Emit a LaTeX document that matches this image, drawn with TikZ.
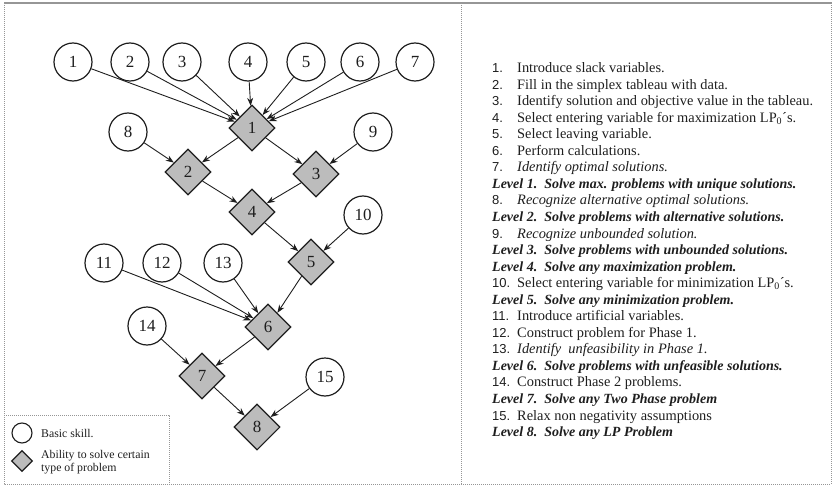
\documentclass[tikz,border=0pt]{standalone}
\usepackage{fontspec}
\setmainfont{Liberation Serif}
\newfontfamily\numfont{Liberation Sans}
\usetikzlibrary{shapes.geometric,arrows.meta}
\definecolor{ink}{RGB}{30,30,30}
\definecolor{dfill}{RGB}{188,188,188}
\definecolor{framec}{RGB}{150,150,150}
\tikzset{
  skill/.style={circle,draw=ink,line width=1.2pt,minimum size=38pt,inner sep=0pt,
    font=\fontsize{17}{17}\selectfont,text=ink,fill=white},
  level/.style={diamond,draw=ink,line width=1.1pt,fill=dfill,minimum width=46pt,
    minimum height=46pt,inner sep=0pt,font=\fontsize{17}{17}\selectfont,text=ink},
  arr/.style={draw=ink,line width=0.9pt,-{Stealth[length=8pt,width=6pt]}},
  frame/.style={draw=framec,line width=1pt,densely dotted},
  item/.style={anchor=base west,inner sep=0pt,font=\fontsize{14.4}{14}\selectfont,text=ink},
  lvl/.style={item,font=\fontsize{14}{14}\selectfont\bfseries\itshape},
  inum/.style={anchor=base west,inner sep=0pt,font=\numfont\fontsize{13}{13}\selectfont,text=ink},
  legtext/.style={anchor=west,inner sep=0pt,font=\fontsize{11.8}{13}\selectfont,text=ink,align=left}
}
\begin{document}
\begin{tikzpicture}[x=1pt,y=-1pt]
\useasboundingbox (0,0) rectangle (833,487);
% frames
\draw[frame] (4,3) rectangle (831,484);
\draw[draw=framec,line width=1.2pt] (4,3) -- (831,3);
\draw[frame] (461,3) -- (461,484);
\draw[frame] (4,415) -- (169,415) -- (169,484);
% skill nodes
\node[skill] (c1) at (73,62) {1};
\node[skill] (c2) at (130,62) {2};
\node[skill] (c3) at (182,62) {3};
\node[skill] (c4) at (248,62) {4};
\node[skill] (c5) at (306,62) {5};
\node[skill] (c6) at (360,62) {6};
\node[skill] (c7) at (415,62) {7};
\node[skill] (c8) at (128,132) {8};
\node[skill] (c9) at (373,132) {9};
\node[skill] (c10) at (363,215) {10};
\node[skill] (c11) at (104,263) {11};
\node[skill] (c12) at (162,263) {12};
\node[skill] (c13) at (223,263) {13};
\node[skill] (c14) at (147,326) {14};
\node[skill] (c15) at (325,377) {15};
% level nodes
\node[level] (d1) at (252,128) {1};
\node[level] (d2) at (188,172) {2};
\node[level] (d3) at (316,174) {3};
\node[level] (d4) at (252,212) {4};
\node[level] (d5) at (311,262) {5};
\node[level] (d6) at (268,327) {6};
\node[level] (d7) at (202,376) {7};
\node[level] (d8) at (257,427) {8};
% connectors
\foreach \i in {1,...,7} \draw[arr] (c\i) -- (d1);
\draw[arr] (c8) -- (d2);
\draw[arr] (d1) -- (d2);
\draw[arr] (d1) -- (d3);
\draw[arr] (c9) -- (d3);
\draw[arr] (d2) -- (d4);
\draw[arr] (d3) -- (d4);
\draw[arr] (d4) -- (d5);
\draw[arr] (c10) -- (d5);
\draw[arr] (c11) -- (d6);
\draw[arr] (c12) -- (d6);
\draw[arr] (c13) -- (d6);
\draw[arr] (d5) -- (d6);
\draw[arr] (c14) -- (d7);
\draw[arr] (d6) -- (d7);
\draw[arr] (d7) -- (d8);
\draw[arr] (c15) -- (d8);
% legend
\node[circle,draw=ink,line width=1.1pt,minimum size=20pt,inner sep=0pt] (lc) at (22,433) {};
\node[diamond,draw=ink,line width=1.1pt,fill=dfill,minimum width=21pt,minimum height=21pt,inner sep=0pt] (ld) at (22,461) {};
\node[legtext] (lt1) at (41,433) {Basic skill.};
\node[legtext] (lt2) at (41,462) {Ability to solve certain\\type of problem};
% list
\def\bx{492}
\def\tx{517}
\newcommand\bline[3]{%
  \node[inum] (n#1) at (\bx,{72.5+16.55*(#1-1)}) {#2};
  \node[item] (t#1) at (\tx,{72.5+16.55*(#1-1)}) {#3};}
\newcommand\lline[2]{%
  \node[lvl] (t#1) at (\bx,{72.5+16.55*(#1-1)}) {#2};}
\bline{1}{1.}{Introduce slack variables.}
\bline{2}{2.}{Fill in the simplex tableau with data.}
\bline{3}{3.}{Identify solution and objective value in the tableau.}
\bline{4}{4.}{Select entering variable for maximization LP\textsubscript{0}´s.}
\bline{5}{5.}{Select leaving variable.}
\bline{6}{6.}{Perform calculations.}
\bline{7}{7.}{\itshape Identify optimal solutions.}
\lline{8}{Level 1.\ \ Solve max. problems with unique solutions.}
\bline{9}{8.}{\itshape Recognize alternative optimal solutions.}
\lline{10}{Level 2.\ \ Solve problems with alternative solutions.}
\bline{11}{9.}{\itshape Recognize unbounded solution.}
\lline{12}{Level 3.\ \ Solve problems with unbounded solutions.}
\lline{13}{Level 4.\ \ Solve any maximization problem.}
\bline{14}{10.}{Select entering variable for minimization LP\textsubscript{0}´s.}
\lline{15}{Level 5.\ \ Solve any minimization problem.}
\bline{16}{11.}{Introduce artificial variables.}
\bline{17}{12.}{Construct problem for Phase 1.}
\bline{18}{13.}{\itshape Identify\ \ unfeasibility in Phase 1.}
\lline{19}{Level 6.\ \ Solve problems with unfeasible solutions.}
\bline{20}{14.}{Construct Phase 2 problems.}
\lline{21}{Level 7.\ \ Solve any Two Phase problem}
\bline{22}{15.}{Relax non negativity assumptions}
\lline{23}{Level 8.\ \ Solve any LP Problem}
\end{tikzpicture}
\end{document}
